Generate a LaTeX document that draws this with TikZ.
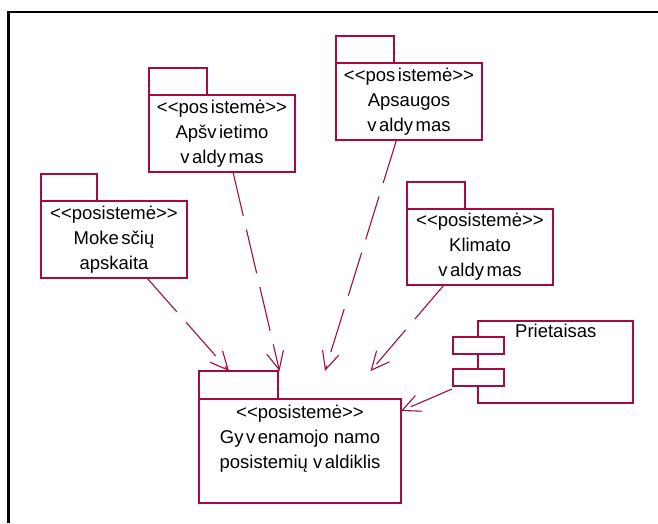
\documentclass[tikz,border=0pt]{standalone}
\usepackage{fontspec}
\setmainfont{Liberation Sans}[Ligatures=TeXOff]
\usetikzlibrary{arrows.meta}
\definecolor{umlred}{RGB}{165,12,62}
% small gap used in the spaced-out words
\newcommand{\gp}{\kern2.5pt}
\tikzset{
  box/.style={draw=umlred, line width=1.1pt, anchor=north west, inner sep=0pt, outer sep=0pt,
              font=\fontsize{18.5}{25}\selectfont, align=center},
  pkgtab/.style={box, minimum width=#1, minimum height=27},
  pkgbody/.style={box, minimum width=146, minimum height=77},
  port/.style={box, fill=white, minimum width=51, minimum height=17},
  dep/.style={draw=umlred, line width=1.1pt, dash pattern=on 45pt off 14pt,
              -{Straight Barb[length=18pt,width=17pt,line width=1.1pt]}},
}
\begin{document}
\begin{tikzpicture}[x=1pt,y=-1pt]
\useasboundingbox (0,0) rectangle (658,523);
\fill[white] (0,0) rectangle (658,523);
% outer frame
\draw[line width=2.2pt] (8.5,523) -- (8.5,12) -- (658,12);

% package: Apšvietimo valdymas
\node[pkgtab=58] (aptab) at (149,68) {};
\node[pkgbody] (ap) at (149,95) {<<pos\gp istemė>>\\Apšv\gp ietimo\\v\gp aldy\gp mas};
% package: Apsaugos valdymas
\node[pkgtab=58] (astab) at (336,36) {};
\node[pkgbody] (as) at (336,63) {<<pos\gp istemė>>\\Apsaugos\\v\gp aldy\gp mas};
% package: Mokesčių apskaita
\node[pkgtab=56] (mtab) at (41,174) {};
\node[pkgbody] (mk) at (41,201) {<<posistemė>>\\Moke\gp sčių\\apskaita};
% package: Klimato valdymas
\node[pkgtab=58] (ktab) at (407,182) {};
\node[pkgbody, minimum height=76] (kl) at (407,209) {<<posistemė>>\\Klimato\\v\gp aldy\gp mas};
% package: Gyvenamojo namo posistemių valdiklis
\node[pkgtab=79, minimum height=28] (gtab) at (199,371) {};
\node[box, minimum width=202, minimum height=104] (gv) at (199,399) {};
\node[font=\fontsize{18.5}{25}\selectfont, align=center, anchor=north, inner sep=0pt]
  (gvtext) at ([yshift=-6]gv.north) {<<posistemė>>\\Gy\gp v\gp enamojo namo\\posistemių v\gp aldiklis};

% component: Prietaisas
\node[box, minimum width=155, minimum height=82] (pr) at (478,321) {};
\node[anchor=north west, inner sep=0pt, font=\fontsize{18.5}{25}\selectfont] (prtext) at (515,324) {Prietaisas};
\node[port] (p1) at (453,337) {};
\node[port] (p2) at (453,369) {};

% tip points of the dependencies
\coordinate (t1) at (229,371);
\coordinate (t2) at (279.5,371);
\coordinate (t3) at (325,371);
\coordinate (t4) at (370.5,371);
\coordinate (t5) at (401,411);
\coordinate (s5) at (452,389);

% dependencies
\draw[dep] (mk.south west) ++(106,0) coordinate (s1) -- (t1);
\draw[dep] (ap.south west) ++(84,0) coordinate (s2) -- (t2);
\draw[dep] (as.south west) ++(60.5,0) coordinate (s3) -- (t3);
\draw[dep] (kl.south west) ++(37,0) coordinate (s4) -- (t4);
\draw[dep] (s5) -- (t5);
\end{tikzpicture}
\end{document}
